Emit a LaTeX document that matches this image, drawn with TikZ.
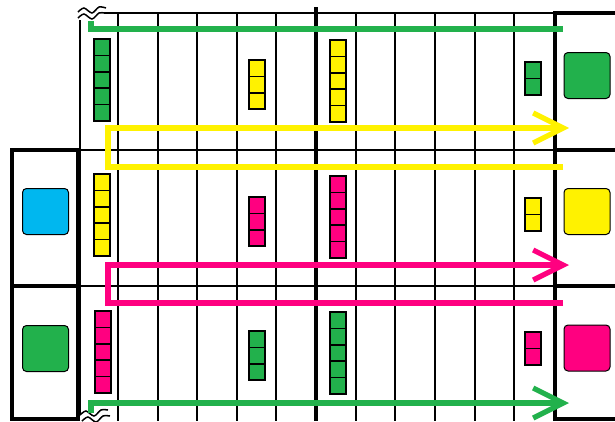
\documentclass[tikz,border=0pt]{standalone}
\usepackage{tikz}
\usetikzlibrary{arrows.meta}
\definecolor{lgreen}{RGB}{34,177,76}
\definecolor{lyellow}{RGB}{255,242,0}
\definecolor{lpink}{RGB}{255,0,128}
\definecolor{lblue}{RGB}{0,183,239}
% stack of cells: x, top y, count, colour
\newcommand{\cellstack}[4]{%
  \foreach \i in {1,...,#3}
    \filldraw[cell, fill=#4] (#1,{#2+16.4*(\i-1)}) rectangle ++(16,16.4);
}

\begin{document}
\begin{tikzpicture}[x=0.5mm, y=-0.5mm,
  thin grid/.style={line width=0.75mm},
  heavy/.style={line width=1.65mm},
  cell/.style={draw=black, line width=0.75mm},
  pad/.style={rectangle, rounded corners=2mm, draw=black,
    line width=0.5mm, minimum width=23mm, minimum height=23mm, inner sep=0pt},
  route/.style={line width=2.6mm},
  tip/.style={-{Straight Barb[length=15mm, width=15mm]}}]
\useasboundingbox (0,0) rectangle (615,421);
% ---- grid
\foreach \x in {118,158,197,237,276,356,395,435,475,514}
  \draw[thin grid] (\x,13) -- (\x,421);
\draw[thin grid] (80,20) -- (80,414);
\draw[thin grid] (104,13) -- (555,13);
\draw[thin grid] (78,150) -- (555,150);
\draw[thin grid] (78,286) -- (555,286);
\draw[line width=2mm] (316,7) -- (316,421);
% ---- break marks
\draw[thin grid] plot[smooth] coordinates {(78,12) (84,8) (92,13) (99,7) (106,8)};
\draw[thin grid] plot[smooth] coordinates {(78,18) (84,14) (92,19) (99,13) (104,13)};
\draw[thin grid] plot[smooth] coordinates {(80,415) (86,411) (94,416) (101,410) (108,410)};
\draw[thin grid] plot[smooth] coordinates {(82,421) (88,417) (96,422) (103,416) (110,416)};
% ---- side boxes
\draw[heavy] (555,421) -- (555,13) -- (620,13);
\draw[heavy] (555,150) -- (620,150);
\draw[heavy] (555,286) -- (620,286);
\draw[heavy] (555,419) -- (620,419);
\draw[heavy] (12,150) rectangle (78,419);
\draw[heavy] (12,286) -- (78,286);
% ---- pads
\node[pad, fill=lgreen]  (padG1) at (587,75.5) {};
\node[pad, fill=lyellow] (padY)  at (587,211.5) {};
\node[pad, fill=lpink]   (padP)  at (587,348) {};
\node[pad, fill=lblue]   (padB)  at (45.5,211.5) {};
\node[pad, fill=lgreen]  (padG2) at (45.5,348.5) {};
% ---- stacks
\cellstack{94}{39}{5}{lgreen}
\cellstack{94}{174}{5}{lyellow}
\cellstack{95}{311}{5}{lpink}
\cellstack{249}{60}{3}{lyellow}
\cellstack{249}{197}{3}{lpink}
\cellstack{249}{331}{3}{lgreen}
\cellstack{330}{40}{5}{lyellow}
\cellstack{330}{176}{5}{lpink}
\cellstack{330}{312}{5}{lgreen}
\cellstack{525}{62}{2}{lgreen}
\cellstack{525}{198}{2}{lyellow}
\cellstack{525}{332}{2}{lpink}
% ---- routes
\coordinate (gTopA) at (91,21);
\coordinate (gTopB) at (563,29);
\coordinate (yA) at (563,167);
\coordinate (yB) at (569,128);
\coordinate (pA) at (563,303);
\coordinate (pB) at (569,265);
\coordinate (gBotA) at (91,413);
\coordinate (gBotB) at (569,403);
\draw[route, lgreen] (gTopA) |- (gTopB);
\draw[route, lyellow, tip] (yA) -- (108,167) |- (yB);
\draw[route, lpink, tip] (pA) -- (108,303) |- (pB);
\draw[route, lgreen, tip] (gBotA) |- (gBotB);
\end{tikzpicture}
\end{document}
